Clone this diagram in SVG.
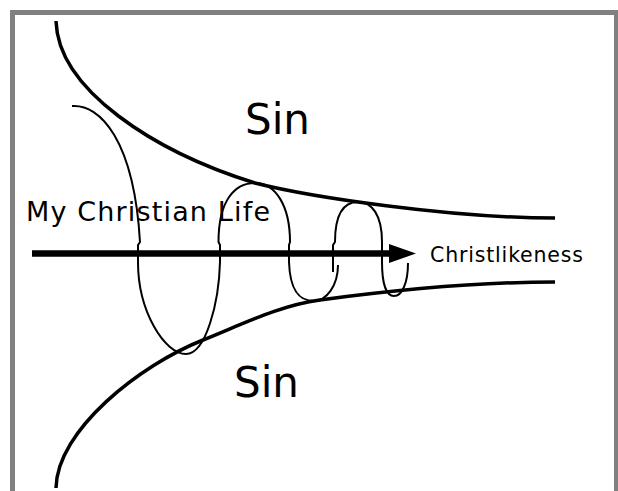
<svg xmlns="http://www.w3.org/2000/svg" width="618" height="491" viewBox="0 0 618 491">
  <defs>
    <style>
      .frame { fill: #ffffff; stroke: #808080; stroke-width: 5; }
      .bound { fill: none; stroke: #000000; stroke-width: 3.5; }
      .spiral { fill: none; stroke: #000000; stroke-width: 2; stroke-linejoin: round; }
      .axis { fill: none; stroke: #000000; stroke-width: 6.5; }
      .lbl { font-family: "DejaVu Sans", Verdana, sans-serif; fill: #000000; }
    </style>
    <marker id="head" viewBox="0 0 27 19" refX="0" refY="9.5" markerWidth="27" markerHeight="19" markerUnits="userSpaceOnUse" orient="auto">
      <polygon points="0,0 27,9.5 0,19" fill="#000000"/>
    </marker>
  </defs>
  <rect width="618" height="491" fill="#ffffff"/>
  <g id="frame">
    <rect class="frame" x="12.5" y="12.5" width="604" height="500"/>
  </g>
  <g id="sin-upper">
    <path class="bound" d="M56,21 C58,90 155,152 255,183 C310,197 450,218 555,218"/>
    <text class="lbl" x="245" y="134" font-size="42">Sin</text>
  </g>
  <g id="sin-lower">
    <path class="bound" d="M56,488 C57,430 140,365 203,340 C242,324.4 280,305.3 320,300 C380,292 470,282 555,282"/>
    <text class="lbl" x="234" y="397" font-size="42">Sin</text>
  </g>
  <g id="my-christian-life">
    <path class="spiral" d="M72,106 C100,104 134,140 140,242 L138,245 L138,262 C138,312 165,354 186,354 C206,354 219,302 220,262 L220,245 L218.5,242 C218.5,200 235,183 255,183 C275,183 290,205 290,242 L289,245 L289,262 C290,292 300,301 314,301 C326,301 338,286 338,265 M333,272 L333,245 L335,242 C335,212 345,202 358,202 C372,202 382,215 382,242 L382,262 C382,283 386,296 394,296 C402,296 408,283 408,263"/>
    <text class="lbl" x="26" y="221" font-size="27" textLength="244">My Christian Life</text>
  </g>
  <g id="connectors">
    <line class="axis" x1="32" y1="253.5" x2="389" y2="253.5" marker-end="url(#head)"/>
  </g>
  <g id="christlikeness">
    <text class="lbl" x="430" y="262" font-size="20.5" textLength="153">Christlikeness</text>
  </g>
</svg>
